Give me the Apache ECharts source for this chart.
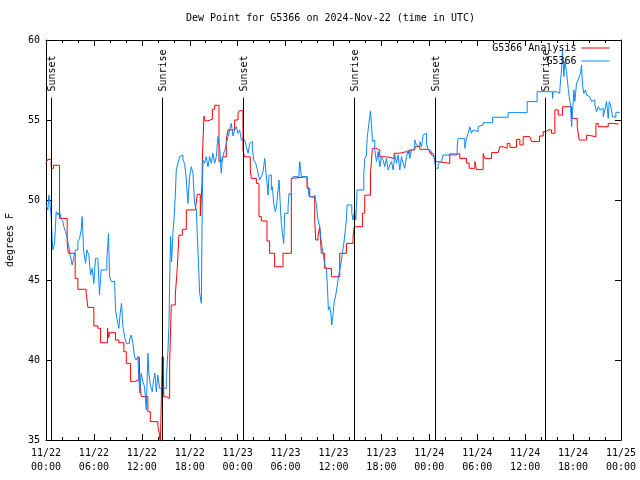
<!DOCTYPE html>
<html>
<head>
<meta charset="utf-8">
<script src="https://cdn.jsdelivr.net/npm/echarts@6/dist/echarts.min.js"></script>
<style>html,body{margin:0;padding:0;background:#fff}#chart{width:640px;height:480px}</style>
</head>
<body>
<div id="chart"></div>
<script>
// Hours since 2024-11-22 00:00 UTC
const titleText = 'Dew Point for G5366 on 2024-Nov-22 (time in UTC)';
const yAxisName = 'degrees F';
const seriesNames = ['G5366 Analysis', 'G5366'];
const xTickLabels = ['11/22\n00:00','11/22\n06:00','11/22\n12:00','11/22\n18:00','11/23\n00:00','11/23\n06:00','11/23\n12:00','11/23\n18:00','11/24\n00:00','11/24\n06:00','11/24\n12:00','11/24\n18:00','11/25\n00:00'];

const sunHours = [0.62, 14.5, 24.66, 38.57, 48.72, 62.5];
const sunLabels = ['Sunset','Sunrise','Sunset','Sunrise','Sunset','Sunrise'];

const analysisHours = [0.0,0.23,0.65,0.94,1.69,2.65,2.8,3.65,3.99,5.03,5.24,5.99,6.5,6.83,7.7,7.85,7.96,8.71,9.13,9.75,10.05,10.59,11.09,11.65,11.75,11.93,12.76,13.06,14.01,14.2,14.31,14.56,14.62,14.68,14.75,15.06,15.48,15.69,16.19,16.44,16.64,17.07,17.57,18.69,18.94,19.32,19.53,19.6,19.78,19.9,20.28,20.83,21.12,21.66,21.95,22.1,22.58,22.79,23.25,23.45,23.62,24.04,24.2,24.66,24.87,25.58,25.71,26.34,26.67,26.96,27.67,28.0,28.63,29.68,30.72,30.9,32.69,33.02,33.65,33.77,34.06,34.27,34.48,34.9,35.74,36.78,37.62,38.45,38.6,39.62,39.91,40.63,40.87,41.3,41.79,42.63,43.59,44.3,45.1,45.55,46.18,46.8,47.6,48.06,48.47,48.72,49.0,50.56,51.82,52.65,52.99,53.7,53.9,54.74,54.95,55.79,56.62,56.83,57.24,57.75,58.08,58.92,59.34,59.75,60.59,60.8,61.8,62.26,62.6,62.89,63.1,63.3,63.72,64.14,64.68,65.81,66.52,66.77,67.69,67.9,68.86,69.15,70.4,70.82,71.7];
const analysisValues = [52.33,52.54,51.98,52.17,48.85,47.3,46.67,45.1,44.42,44.17,43.29,42.13,41.98,41.08,42.0,41.4,41.71,41.25,41.08,40.52,39.79,38.65,38.75,40.2,38.75,37.71,36.77,36.15,35.85,35.4,34.6,40.2,37.7,40.2,37.7,37.6,39.8,43.44,44.06,45.73,47.8,48.17,49.38,49.5,50.35,49.0,51.0,52.96,55.25,54.95,55.05,55.67,55.92,52.4,52.3,52.7,53.75,54.38,54.48,54.38,55.0,55.42,55.58,53.1,52.7,51.9,51.35,51.04,48.96,48.69,47.44,46.67,45.83,46.67,51.35,51.45,50.73,50.2,48.75,47.5,47.7,48.33,46.67,45.73,45.2,46.67,47.29,47.8,48.33,49.17,50.3,51.67,53.23,53.13,52.7,52.6,52.92,53.02,52.92,53.13,53.33,53.17,53.13,52.92,52.8,52.4,52.29,52.88,52.6,52.3,51.98,52.4,51.9,52.9,52.6,52.96,52.85,53.33,53.23,53.54,53.29,53.79,53.44,53.96,53.85,53.65,54.0,54.27,54.38,54.48,54.38,54.17,55.63,55.31,55.83,55.1,54.58,53.75,54.06,53.96,54.79,54.58,54.79,54.75,54.75];

const obsHours = [0.02,0.23,0.36,0.52,0.65,0.77,0.86,1.07,1.28,1.48,1.69,1.9,2.11,2.24,2.44,2.61,2.86,3.03,3.28,3.45,3.7,3.99,4.2,4.41,4.53,4.7,4.95,5.12,5.37,5.58,5.79,5.99,6.2,6.49,6.7,6.91,7.33,7.62,7.83,7.96,8.17,8.58,8.71,8.87,9.12,9.29,9.46,9.63,9.84,10.05,10.46,10.67,10.88,11.09,11.3,11.5,11.72,11.93,12.13,12.34,12.56,12.76,12.88,13.06,13.31,13.47,13.64,13.81,14.01,14.22,15.06,15.27,15.39,15.48,15.6,15.73,15.89,16.02,16.19,16.31,16.52,16.73,16.94,17.14,17.36,17.57,17.77,17.98,18.19,18.4,18.61,18.82,19.02,19.24,19.45,19.57,19.65,19.86,20.07,20.28,20.49,20.7,20.9,21.12,21.33,21.53,21.74,21.95,22.08,22.24,22.41,22.58,22.79,23.0,23.2,23.41,23.62,23.83,24.04,24.25,24.46,24.67,24.88,25.09,25.3,25.51,25.72,25.84,26.01,26.26,26.43,26.55,26.76,26.97,27.18,27.39,27.51,27.68,27.8,27.93,28.1,28.22,28.35,28.51,28.72,28.85,29.06,29.18,29.35,29.47,29.6,29.77,29.89,30.1,30.31,30.44,30.6,30.73,30.94,31.69,31.77,31.98,32.69,32.94,33.23,33.65,33.86,34.07,34.28,34.49,34.7,34.9,35.11,35.24,35.36,35.53,35.66,35.78,35.95,36.07,36.28,36.45,36.62,36.87,37.08,37.29,37.49,37.62,37.7,38.29,38.45,38.66,38.79,38.96,39.79,39.92,40.13,40.21,40.33,40.46,40.54,40.63,40.75,40.88,41.04,41.17,41.38,41.59,41.8,42.0,42.21,42.42,42.63,42.84,43.05,43.26,43.47,43.68,43.89,44.09,44.3,44.51,44.72,44.93,45.14,45.35,45.56,45.77,45.97,46.18,46.39,46.6,46.81,47.02,47.23,47.44,47.64,47.85,48.06,48.27,48.48,48.69,48.81,49.1,49.31,49.52,49.72,51.48,51.6,52.44,52.65,52.86,53.07,53.19,53.27,53.48,53.69,54.11,54.32,54.74,55.91,57.87,60.25,61.5,63.42,63.51,63.93,64.34,64.55,64.68,64.84,64.97,65.18,65.39,65.51,65.68,65.81,65.93,66.1,66.22,66.43,66.64,66.77,66.93,67.06,67.18,67.35,67.56,67.69,67.89,68.1,68.31,68.52,68.73,68.94,69.15,69.36,69.56,69.77,69.98,70.19,70.4,70.53,70.69,70.82,70.94,71.11,71.36,71.87];
const obsValues = [49.69,49.38,50.31,49.69,48.96,47.6,46.88,47.29,49.27,49.06,49.27,48.85,48.65,48.33,48.02,47.71,47.08,46.56,45.94,46.35,46.88,47.4,47.6,48.13,48.96,46.88,46.04,46.88,46.56,45.31,45.73,44.79,46.35,46.29,44.06,45.63,45.63,46.35,47.92,45.21,44.9,44.9,43.13,42.6,41.98,42.92,43.54,42.08,41.46,41.04,41.25,41.56,41.04,40.21,40.0,40.21,37.92,39.17,38.65,38.33,36.88,40.42,39.17,38.44,38.02,38.75,39.17,38.02,39.06,38.23,38.75,40.63,42.08,44.79,47.71,46.15,47.92,48.75,50.21,51.88,52.29,52.71,52.81,52.5,52.29,51.25,49.79,51.46,52.08,51.67,49.79,49.38,46.88,44.17,43.54,50.0,52.5,52.29,52.71,52.08,52.71,52.29,52.92,52.29,52.71,53.96,53.33,51.67,52.5,52.92,53.13,53.54,53.96,54.38,54.8,54.0,54.38,54.58,54.17,54.38,53.75,53.75,53.65,53.33,52.92,53.54,53.65,53.23,52.5,52.29,51.98,51.67,51.25,51.46,51.77,52.6,51.88,51.04,50.31,51.56,51.56,50.63,50.83,49.79,49.27,49.58,50.63,51.25,49.58,48.54,47.92,47.29,49.17,49.17,49.58,50.42,50.31,51.25,51.46,51.88,52.4,51.46,51.25,50.21,50.1,50.31,49.69,48.75,48.33,47.29,46.67,45.94,45.73,44.58,43.13,43.33,42.92,42.19,42.92,43.54,44.06,44.58,45.21,45.83,46.56,47.29,48.13,48.75,49.69,49.17,48.75,49.38,48.75,50.63,51.67,52.6,52.81,53.85,53.96,54.9,55.21,55.56,54.79,53.65,53.75,53.13,52.4,53.02,52.08,52.71,52.5,52.08,52.6,51.88,52.19,52.4,51.88,52.81,52.29,52.81,51.88,52.71,52.29,51.98,52.71,53.13,52.6,53.13,53.23,53.75,53.44,53.33,53.65,53.33,54.06,54.17,53.54,53.13,53.02,52.81,52.71,52.29,51.98,52.29,52.4,52.5,52.81,53.23,53.85,53.23,53.85,54.17,54.58,54.69,54.17,54.38,54.27,54.58,54.69,54.83,55.17,55.46,56.15,56.77,56.35,56.77,56.67,56.88,58.13,59.48,57.71,58.65,58.02,56.98,56.46,55.94,54.58,55.42,56.88,56.15,57.29,57.5,57.71,57.92,58.44,57.19,56.67,56.88,56.56,56.46,56.56,56.15,56.25,55.94,55.52,55.83,55.63,55.73,55.21,55.63,56.15,55.1,56.15,55.94,55.83,55.21,55.17,55.48,55.48];

const X_MIN = 0, X_MAX = 72, X_STEP = 6;
const Y_MIN = 35, Y_MAX = 60, Y_STEP = 5;
const SUN_LINE_TOP = 56.4;

const FONT = "'DejaVu Sans Mono', 'Liberation Mono', monospace";
const zip = (xs, ys) => xs.map((x, i) => [x, ys[i]]);

const chart = echarts.init(document.getElementById('chart'), null, {renderer: 'canvas'});

const tickCommon = {show: true, inside: true, length: 6, lineStyle: {color: '#000', width: 1}};
const minorCommon = {show: true, splitNumber: 3, length: 3, lineStyle: {color: '#000', width: 1}};
const lineCommon = {show: true, onZero: false, lineStyle: {color: '#000', width: 1}};
const legendCommon = {right: 30, align: 'right', orient: 'vertical', itemWidth: 28, itemHeight: 12, padding: 0,
  itemStyle: {opacity: 0}, lineStyle: {width: 1},
  textStyle: {fontFamily: FONT, fontSize: 10, color: '#000'}};

chart.setOption({
  animation: false,
  backgroundColor: '#fff',
  title: {
    text: titleText, left: 186, top: 13, padding: 0,
    textStyle: {fontFamily: FONT, fontSize: 10, fontWeight: 'normal', color: '#000'}
  },
  legend: [
    Object.assign({data: [seriesNames[0]], top: 43}, legendCommon),
    Object.assign({data: [seriesNames[1]], top: 56}, legendCommon)
  ],
  grid: {left: 46, right: 19, top: 40, bottom: 40, containLabel: false, outerBoundsMode: 'none'},
  xAxis: [
    {type: 'value', position: 'bottom', min: X_MIN, max: X_MAX, interval: X_STEP,
     axisLine: lineCommon, axisTick: tickCommon, minorTick: minorCommon,
     splitLine: {show: false},
     axisLabel: {show: true, margin: 6, fontFamily: FONT, fontSize: 10, lineHeight: 14, color: '#000',
       formatter: v => xTickLabels[Math.round((v - X_MIN) / X_STEP)] || ''}},
    {type: 'value', position: 'top', min: X_MIN, max: X_MAX, interval: X_STEP,
     axisLine: lineCommon, axisTick: tickCommon, minorTick: minorCommon,
     splitLine: {show: false}, axisLabel: {show: false}}
  ],
  yAxis: [
    {type: 'value', position: 'left', min: Y_MIN, max: Y_MAX, interval: Y_STEP,
     name: yAxisName, nameLocation: 'middle', nameGap: 31, nameRotate: 90,
     nameTextStyle: {fontFamily: FONT, fontSize: 10, color: '#000'},
     axisLine: lineCommon, axisTick: tickCommon, splitLine: {show: false},
     axisLabel: {margin: 6, fontFamily: FONT, fontSize: 10, color: '#000'}},
    {type: 'value', position: 'right', min: Y_MIN, max: Y_MAX, interval: Y_STEP,
     axisLine: lineCommon, axisTick: tickCommon, splitLine: {show: false},
     axisLabel: {show: false}}
  ],
  series: [
    {name: seriesNames[0], type: 'line', step: 'end', data: zip(analysisHours, analysisValues),
     symbol: 'none', color: '#ff0000', lineStyle: {color: '#ff0000', width: 1}, clip: true, z: 2},
    {name: seriesNames[1], type: 'line', step: 'end', data: zip(obsHours, obsValues),
     symbol: 'none', color: '#0a88ff', lineStyle: {color: '#0a88ff', width: 1}, clip: true, z: 3},
    {name: 'sun', type: 'custom', data: sunHours.map(h => [h, Y_MIN]), z: 4,
     renderItem: function (params, api) {
       const h = api.value(0);
       const b = api.coord([h, Y_MIN]);
       const t = api.coord([h, SUN_LINE_TOP]);
       const x = Math.round(b[0]) + 0.5;
       return {type: 'group', children: [
         {type: 'line', shape: {x1: x, y1: b[1], x2: x, y2: t[1]},
          style: {stroke: '#000', lineWidth: 1}},
         {type: 'text', x: x + 1, y: t[1] - 6, rotation: Math.PI / 2,
          style: {text: sunLabels[params.dataIndex], font: '10px ' + FONT, fill: '#000',
                  align: 'left', verticalAlign: 'middle'}}
       ]};
     }}
  ]
});
</script>
</body>
</html>
